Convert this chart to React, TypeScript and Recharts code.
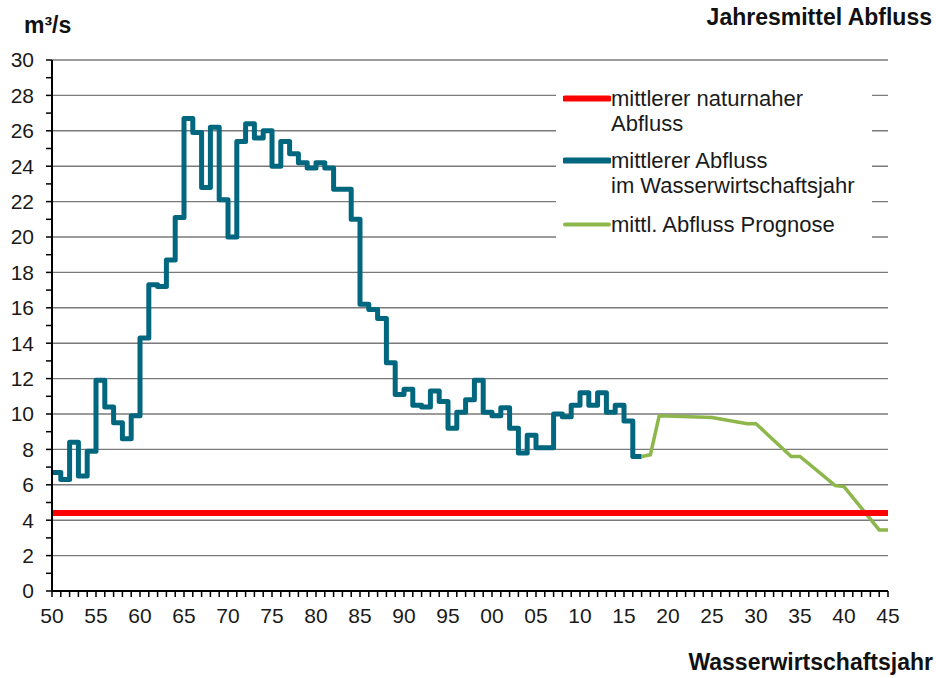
import { LineChart, Line, XAxis, YAxis, CartesianGrid } from 'recharts'

// Mittlerer Abfluss im Wasserwirtschaftsjahr, m³/s, ab 1950 (ein Wert je Jahr)
const firstYear = 1950
const flowValues = [
  6.7, 6.3, 8.4, 6.5, 7.9, 11.9, 10.4, 9.5, 8.6, 9.9,
  14.3, 17.3, 17.2, 18.7, 21.1, 26.7, 25.9, 22.8, 26.2, 22.1,
  20.0, 25.4, 26.4, 25.6, 26.0, 24.0, 25.4, 24.7, 24.2, 23.9,
  24.2, 23.9, 22.7, 22.7, 21.0, 16.2, 15.9, 15.4, 12.9, 11.1,
  11.4, 10.5, 10.4, 11.3, 10.7, 9.2, 10.1, 10.8, 11.9, 10.1,
  9.9, 10.35, 9.2, 7.8, 8.8, 8.1, 8.1, 10.0, 9.85, 10.5,
  11.2, 10.5, 11.2, 10.1, 10.5, 9.6, 7.6,
]
const flowEndYear = 2017

// Prognose
const forecastYears = [2017, 2018, 2019, 2025, 2029, 2030, 2034, 2035, 2039, 2040, 2044, 2045]
const forecastValues = [7.6, 7.7, 9.9, 9.8, 9.45, 9.45, 7.6, 7.6, 5.95, 5.9, 3.45, 3.45]

// mittlerer naturnaher Abfluss
const naturalYears = [1950, 2045]
const naturalValue = 4.4

const yTicks = [0, 1, 2, 3, 4, 5, 6, 7, 8, 9, 10, 11, 12, 13, 14, 15, 16, 17, 18, 19, 20, 21, 22, 23, 24, 25, 26, 27, 28, 29, 30]
const yGrid = [0, 2, 4, 6, 8, 10, 12, 14, 16, 18, 20, 22, 24, 26, 28, 30]
const xTicks = Array.from({ length: 96 }, (_, i) => 1950 + i)

const flowData = [
  ...flowValues.map((v, i) => ({ year: firstYear + i, flow: v })),
  { year: flowEndYear, flow: flowValues[flowValues.length - 1] },
]
const forecastData = forecastYears.map((y, i) => ({ year: y, forecast: forecastValues[i] }))
const naturalData = naturalYears.map((y) => ({ year: y, natural: naturalValue }))

const font = '"Liberation Sans", Arial, sans-serif'
const tickStyle = { fontSize: 21, fill: '#1a1a1a', fontFamily: font }

const legendItems = [
  { color: '#FF0000', width: 6, lines: ['mittlerer naturnaher', 'Abfluss'] },
  { color: '#00677E', width: 6, lines: ['mittlerer Abfluss', 'im Wasserwirtschaftsjahr'] },
  { color: '#8DB64B', width: 4, lines: ['mittl. Abfluss Prognose'] },
]

export default function App() {
  return (
    <div style={{ position: 'absolute', left: 0, top: 0, width: 936, height: 678, background: '#fff', fontFamily: font }}>
      <LineChart width={936} height={678} margin={{ top: 60, right: 48, bottom: 0, left: 0 }}>
        <CartesianGrid
          vertical={false}
          horizontalValues={yGrid}
          stroke="#7a7a7a"
          strokeWidth={1.4}
        />
        <XAxis
          dataKey="year"
          type="number"
          domain={[1950, 2045]}
          ticks={xTicks}
          interval={0}
          allowDataOverflow
          height={87}
          tickSize={6}
          tickMargin={11}
          tick={tickStyle}
          tickFormatter={(v: number) => (v % 5 === 0 ? String(v % 100).padStart(2, '0') : '')}
          axisLine={{ stroke: '#000', strokeWidth: 2 }}
          tickLine={{ stroke: '#000', strokeWidth: 1.5 }}
        />
        <YAxis
          type="number"
          domain={[0, 30]}
          ticks={yTicks}
          interval={0}
          width={52}
          tickSize={6}
          tickMargin={12}
          tick={tickStyle}
          tickFormatter={(v: number) => (v % 2 === 0 ? String(v) : '')}
          axisLine={{ stroke: '#000', strokeWidth: 2 }}
          tickLine={{ stroke: '#000', strokeWidth: 1.5 }}
        />
        <Line
          data={flowData}
          dataKey="flow"
          type="stepAfter"
          stroke="#00677E"
          strokeWidth={5}
          strokeLinejoin="round"
          dot={false}
          activeDot={false}
          isAnimationActive={false}
        />
        <Line
          data={forecastData}
          dataKey="forecast"
          type="linear"
          stroke="#8DB64B"
          strokeWidth={3.5}
          dot={false}
          activeDot={false}
          isAnimationActive={false}
        />
        <Line
          data={naturalData}
          dataKey="natural"
          type="linear"
          stroke="#FF0000"
          strokeWidth={6}
          dot={false}
          activeDot={false}
          isAnimationActive={false}
        />
      </LineChart>

      <div style={{ position: 'absolute', left: 24, top: 14, fontSize: 23, fontWeight: 'bold', lineHeight: '23px', color: '#111' }}>
        m³/s
      </div>
      <div style={{ position: 'absolute', right: 4, top: 6, fontSize: 23, fontWeight: 'bold', lineHeight: '23px', color: '#111', whiteSpace: 'nowrap' }}>
        Jahresmittel Abfluss
      </div>
      <div style={{ position: 'absolute', right: 3, top: 651, fontSize: 23, fontWeight: 'bold', lineHeight: '23px', color: '#111', whiteSpace: 'nowrap' }}>
        Wasserwirtschaftsjahr
      </div>

      <div style={{ position: 'absolute', left: 556, top: 80, width: 316, height: 170, background: '#fff' }}>
        {legendItems.map((item, i) => (
          <div key={i} style={{ position: 'absolute', left: 7, top: [6, 68, 132][i], display: 'flex', alignItems: 'flex-start' }}>
            <svg width={48} height={25} style={{ flex: 'none' }}>
              <line x1={2} x2={46} y1={12.5} y2={12.5} stroke={item.color} strokeWidth={item.width} strokeLinecap="round" />
            </svg>
            <div style={{ fontSize: 22, lineHeight: '25px', color: '#1a1a1a', whiteSpace: 'nowrap' }}>
              {item.lines.map((l, j) => (
                <div key={j}>{l}</div>
              ))}
            </div>
          </div>
        ))}
      </div>
    </div>
  )
}
